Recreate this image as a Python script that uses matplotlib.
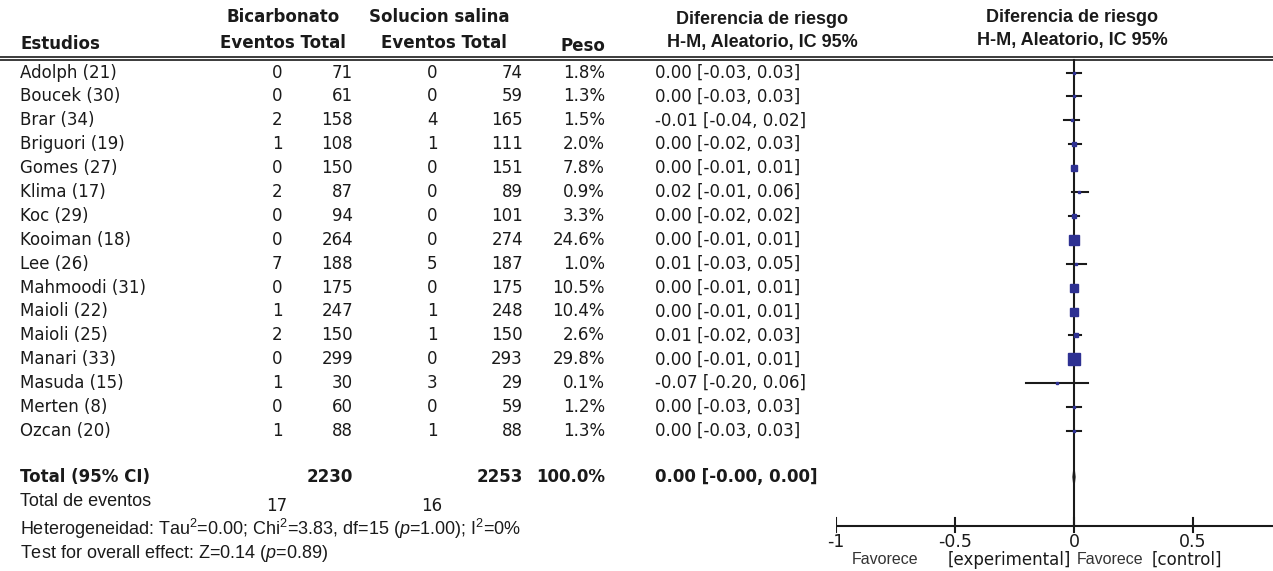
import matplotlib.pyplot as plt
import numpy as np

# data
studies = ["Adolph (21)", "Boucek (30)", "Brar (34)", "Briguori (19)", "Gomes (27)",
           "Klima (17)", "Koc (29)", "Kooiman (18)", "Lee (26)", "Mahmoodi (31)",
           "Maioli (22)", "Maioli (25)", "Manari (33)", "Masuda (15)", "Merten (8)",
           "Ozcan (20)"]
bic_events = [0, 0, 2, 1, 0, 2, 0, 0, 7, 0, 1, 2, 0, 1, 0, 1]
bic_total = [71, 61, 158, 108, 150, 87, 94, 264, 188, 175, 247, 150, 299, 30, 60, 88]
sal_events = [0, 0, 4, 1, 0, 0, 0, 0, 5, 0, 1, 1, 0, 3, 0, 1]
sal_total = [74, 59, 165, 111, 151, 89, 101, 274, 187, 175, 248, 150, 293, 29, 59, 88]
weights = [1.8, 1.3, 1.5, 2.0, 7.8, 0.9, 3.3, 24.6, 1.0, 10.5, 10.4, 2.6, 29.8, 0.1, 1.2, 1.3]
rd = [0.00, 0.00, -0.01, 0.00, 0.00, 0.02, 0.00, 0.00, 0.01, 0.00, 0.00, 0.01, 0.00, -0.07, 0.00, 0.00]
ci_lo = [-0.03, -0.03, -0.04, -0.02, -0.01, -0.01, -0.02, -0.01, -0.03, -0.01, -0.01, -0.02, -0.01, -0.20, -0.03, -0.03]
ci_hi = [0.03, 0.03, 0.02, 0.03, 0.01, 0.06, 0.02, 0.01, 0.05, 0.01, 0.01, 0.03, 0.01, 0.06, 0.03, 0.03]
total_bic, total_sal = 2230, 2253
events_bic, events_sal = 17, 16
total_rd, total_lo, total_hi = 0.00, -0.00, 0.00
xticks = [-1, -0.5, 0, 0.5]
xticklabels = ["-1", "-0.5", "0", "0.5"]

W, H = 1273, 571
INK = "#1a1a1a"
SQ = "#2e3192"
BODY = "DejaVu Sans"
ARIAL = "Liberation Sans"

plt.rcParams["mathtext.fontset"] = "custom"
plt.rcParams["mathtext.rm"] = ARIAL
plt.rcParams["mathtext.it"] = ARIAL + ":italic"

fig = plt.figure(figsize=(W / 100, H / 100), dpi=100)
ax = fig.add_axes([0, 0, 1, 1])
ax.set_xlim(0, W)
ax.set_ylim(H, 0)
ax.axis("off")

fs = 12
hdr = dict(fontsize=12, fontweight="bold", color=INK, family=BODY, va="center")
hdr_ar = dict(fontsize=13, fontweight="bold", color=INK, family=ARIAL, va="center")

# column anchors (pixels)
x_name, x_be, x_bt, x_se, x_st, x_w, x_rd = 20, 277, 353, 432, 523, 605, 655

# header
ax.text(283, 17, "Bicarbonato", ha="center", **hdr)
ax.text(283, 43, "Eventos Total", ha="center", **hdr)
ax.text(439, 17, "Solucion salina", ha="center", **hdr)
ax.text(444, 43, "Eventos Total", ha="center", **hdr)
ax.text(x_name, 44, "Estudios", ha="left", **hdr)
ax.text(x_w, 46, "Peso", ha="right", **hdr)
ax.text(762, 19, "Diferencia de riesgo", ha="center", **hdr_ar)
ax.text(762, 43, "H-M, Aleatorio, IC 95%", ha="center", **hdr_ar)
ax.text(1072, 17, "Diferencia de riesgo", ha="center", **hdr_ar)
ax.text(1072, 41, "H-M, Aleatorio, IC 95%", ha="center", **hdr_ar)
ax.plot([0, W], [57, 57], color=INK, lw=1.2)
ax.plot([0, W], [60, 60], color=INK, lw=1.2)

row_y0, row_dy = 72.5, 23.9
ys = [row_y0 + i * row_dy for i in range(len(studies))]
body = dict(fontsize=fs, color=INK, family=BODY, va="center")
for y, s, be, bt, se, st, w, r, lo, hi in zip(ys, studies, bic_events, bic_total,
                                             sal_events, sal_total, weights, rd, ci_lo, ci_hi):
    ax.text(x_name, y, s, ha="left", **body)
    ax.text(x_be, y, f"{be}", ha="center", **body)
    ax.text(x_bt, y, f"{bt}", ha="right", **body)
    ax.text(x_se, y, f"{se}", ha="center", **body)
    ax.text(x_st, y, f"{st}", ha="right", **body)
    ax.text(x_w, y, f"{w:.1f}%", ha="right", **body)
    ax.text(x_rd, y, f"{r:.2f} [{lo:.2f}, {hi:.2f}]", ha="left", **body)

y_tot = 477
bold = dict(body, fontweight="bold")
ax.text(x_name, y_tot, "Total (95% CI)", ha="left", **bold)
ax.text(x_bt, y_tot, f"{total_bic}", ha="right", **bold)
ax.text(x_st, y_tot, f"{total_sal}", ha="right", **bold)
ax.text(x_w, y_tot, "100.0%", ha="right", **bold)
ax.text(x_rd, y_tot, f"{total_rd:.2f} [-{abs(total_lo):.2f}, {total_hi:.2f}]", ha="left", **bold)

ar = dict(fontsize=13, color=INK, family=ARIAL, va="center")
ax.text(x_name, 501, "Total de eventos", ha="left", **ar)
ax.text(x_be, 506, f"{events_bic}", ha="center", **body)
ax.text(x_se, 506, f"{events_sal}", ha="center", **body)
ax.text(x_name, 529, r"Heterogeneidad: Tau$^2$=0.00; Chi$^2$=3.83, df=15 ($p$=1.00); I$^2$=0%",
        ha="left", **ar)
ax.text(x_name, 554, r"Test for overall effect: Z=0.14 ($p$=0.89)", ha="left", **ar)

# forest panel: x in risk-difference units, y in pixels
x_left, px_per_unit = 836, 238.0
fx = fig.add_axes([x_left / W, 0, (W - x_left) / W, 1])
fx.set_xlim(-1, (W - x_left) / px_per_unit - 1)
fx.set_ylim(H, 0)
fx.axis("off")
fx.patch.set_alpha(0)

y_axis = 526
fx.plot([0, 0], [60, y_axis], color=INK, lw=1.5, zorder=2)
for y, w, r, lo, hi in zip(ys, weights, rd, ci_lo, ci_hi):
    fx.plot([lo, hi], [y, y], color=INK, lw=1.5, zorder=3)
    ms = 2.2 * np.sqrt(w) / 1.39
    fx.plot(r, y, marker="s", ms=max(ms, 2.0), color=SQ, mec=SQ, zorder=4)
# pooled diamond
fx.fill([total_lo - 0.004, total_rd, total_hi + 0.004, total_rd],
        [y_tot, y_tot - 9, y_tot, y_tot + 9], color=INK, zorder=4)

fx.plot([-1, fx.get_xlim()[1]], [y_axis, y_axis], color=INK, lw=1.5)
for t, lab in zip(xticks, xticklabels):
    fx.plot([t, t], [y_axis - 8, y_axis + 6], color=INK, lw=1.5)
    fx.text(t, 542, lab, ha="center", va="center", fontsize=12.5, color=INK, family=BODY)
fx.text((852 - 1074) / px_per_unit, 560, "Favorece", ha="left", va="center", fontsize=11.5,
        color="#333333", family=ARIAL)
fx.text((948 - 1074) / px_per_unit, 560, "[experimental]", ha="left", va="center", fontsize=12,
        color=INK, family=BODY)
fx.text((1077 - 1074) / px_per_unit, 560, "Favorece", ha="left", va="center", fontsize=11.5,
        color="#333333", family=ARIAL)
fx.text((1152 - 1074) / px_per_unit, 560, "[control]", ha="left", va="center", fontsize=12,
        color=INK, family=BODY)

fig.savefig("out.png", dpi=100)
